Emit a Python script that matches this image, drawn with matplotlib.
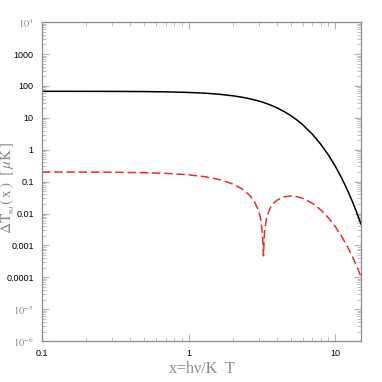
import numpy as np
import matplotlib
matplotlib.use("Agg")
import matplotlib.pyplot as plt
from matplotlib.ticker import LogLocator, FixedLocator, FixedFormatter, NullFormatter

plt.rcParams['mathtext.fontset'] = 'stix'

# values (x, Delta T_RJ in micro K)
x_vals = [0.1, 0.2, 0.3, 0.5, 0.7, 1.0, 1.3, 1.6, 2.0, 2.3, 2.6, 2.8, 3.0, 3.1,
          3.2, 3.24, 3.3, 3.4, 3.6, 3.8, 4.0, 4.5, 5.0, 5.5, 6.0, 7.0, 8.0,
          9.0, 10.0, 11.0, 12.0, 13.0, 14.0, 15.0]
black_vals = [67.9, 67.8, 67.5, 66.6, 65.3, 62.6, 59.2, 55.2, 49.2, 44.6, 39.8,
              36.8, 33.8, 32.3, 30.9, 30.3, 29.4, 28.1, 25.5, 23.0, 20.7, 15.6,
              11.6, 8.48, 6.10, 3.04, 1.46, 0.680, 0.309, 0.137, 0.0602, 0.0260,
              0.0111, 0.00468]
red_vals = [0.200, 0.199, 0.197, 0.191, 0.182, 0.164, 0.142, 0.118, 0.0846,
            0.0603, 0.0379, 0.0245, 0.0125, 0.00704, 0.00193, 0.00047, 0.00281,
            0.00718, 0.0149, 0.0211, 0.0261, 0.0336, 0.0355, 0.0338, 0.0301,
            0.0209, 0.0129, 0.00731, 0.00392, 0.00202, 0.00100, 0.000483,
            0.000228, 0.000105]

ytick_vals = [1e-6, 1e-5, 1e-4, 1e-3, 1e-2, 1e-1, 1, 10, 100, 1000, 1e4]
ytick_text = [r'$10^{-6}$', r'$10^{-5}$', '0.0001', '0.001', '0.01', '0.1',
              '1', '10', '100', '1000', r'$10^{4}$']
xtick_vals = [0.1, 1, 10]
xtick_text = ['0.1', '1', '10']

gray = '#8a8a8a'
tick_gray = '#b4b4b4'

fig = plt.figure(figsize=(3.82, 3.82), dpi=100)
ax = fig.add_axes([0.110, 0.107, 0.835, 0.835])

ax.plot(x_vals, black_vals, color='black', lw=1.1)
ax.plot(x_vals, red_vals, color='#f02a2a', lw=1.1, ls=(0, (5.5, 2.5)))

ax.set_xscale('log')
ax.set_yscale('log')
ax.set_xlim(0.1, 15)
ax.set_ylim(1e-6, 1e4)

ax.yaxis.set_major_locator(FixedLocator(ytick_vals))
ax.yaxis.set_major_formatter(FixedFormatter(ytick_text))
ax.yaxis.set_minor_locator(LogLocator(base=10, subs=np.arange(2, 10), numticks=20))
ax.yaxis.set_minor_formatter(NullFormatter())
ax.xaxis.set_major_locator(FixedLocator(xtick_vals))
ax.xaxis.set_major_formatter(FixedFormatter(xtick_text))
ax.xaxis.set_minor_locator(LogLocator(base=10, subs=np.arange(2, 10), numticks=20))
ax.xaxis.set_minor_formatter(NullFormatter())

ax.tick_params(which='both', direction='in', top=True, right=True, color=tick_gray)
ax.tick_params(which='major', length=5, width=0.8, labelsize=6.5, pad=6)
ax.tick_params(which='minor', length=3, width=0.6)
for lab in ax.get_xticklabels() + ax.get_yticklabels():
    lab.set_fontfamily('Liberation Sans')
for lab in ax.get_yticklabels():
    if lab.get_text().startswith('$'):
        lab.set_color(gray)
        lab.set_fontsize(7.5)

for sp in ax.spines.values():
    sp.set_color(gray)
    sp.set_linewidth(0.9)

ax.set_xlabel('x=h\u03bd/K  T', family='Liberation Serif', fontsize=11.5,
              color=gray, labelpad=2)
ax.set_ylabel(r'$\Delta\mathrm{T}_{_{\rm RJ}}(\,\mathrm{x}\,)\ \ [\,\mu\mathrm{K}\,]$',
              fontsize=11, color=gray)
ax.yaxis.set_label_coords(-0.078, 0.48)

fig.savefig('out.png', dpi=100)
